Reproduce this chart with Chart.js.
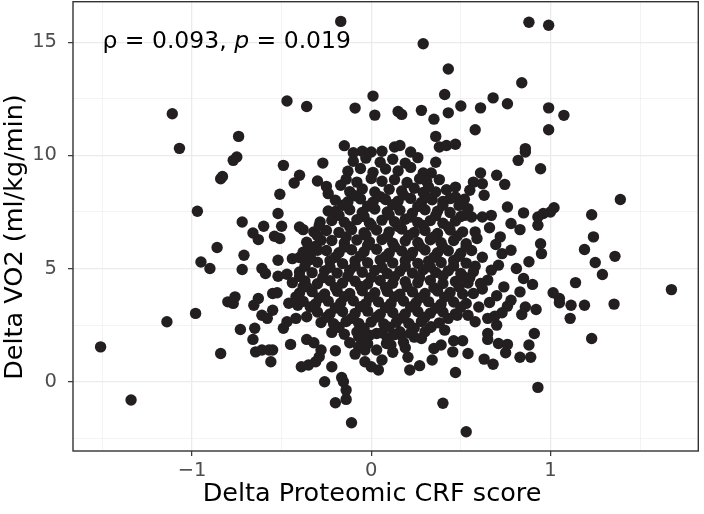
<!DOCTYPE html>
<html lang="en">
<head>
<meta charset="UTF-8" />
<title>Delta VO2 vs Delta Proteomic CRF score</title>
<script src="https://cdn.jsdelivr.net/npm/chart.js"></script>
<style>
  * { margin: 0; padding: 0; box-sizing: border-box; }
  body { background: #ffffff; }
  .wrap { width: 704px; height: 514px; position: relative; overflow: hidden; }
  /* chart.js keeps ~4px above the panel; pull the canvas up so the panel starts at the top */
  .plot { position: absolute; left: 0; top: -4px; width: 704px; height: 518px; }
</style>
</head>
<body>
<div class="wrap"><div class="plot"><canvas id="scatter"></canvas></div></div>
<script>
// axis setup
const xTitle = 'Delta Proteomic CRF score';
const yTitle = 'Delta VO2 (ml/kg/min)';
const xLimits = [-1.664, 1.825];
const yLimits = [-3.06, 16.79];
const corrParts = [['\u03c1 = 0.093, ', 'normal'], ['p', 'italic'], [' = 0.019', 'normal']];

// sparse points, read one by one (x = delta CRF score, y = delta VO2)
const leftPts = [
  [-1.11,11.84],[-1.07,10.31],[-0.84,8.97],[-0.83,9.07],[-0.97,7.53],[-0.86,5.93],[-0.95,5.29],[-0.90,5.00],
  [-1.14,2.65],[-0.98,3.02],[-0.84,1.25],[-1.51,1.54],[-1.34,-0.81],[-0.80,3.53],
  [-0.75,9.93],[-0.77,9.78],[-0.49,9.56],[-0.27,9.66],[-0.40,9.12],[-0.43,8.78],[-0.30,8.87],[-0.25,8.63],
  [-0.24,8.31],[-0.17,8.68],[-0.51,8.28],[-0.52,7.43],[-0.72,7.06],[-0.60,6.87],[-0.50,6.87],[-0.66,6.57],
  [-0.63,6.28],[-0.54,6.43],[-0.51,6.33],[-0.40,6.84],[-0.38,6.72],[-0.24,7.54],[-0.71,5.59],[-0.72,4.96],
  [-0.52,5.37],[-0.61,5.00],[-0.59,4.78],[-0.52,4.66],[-0.47,4.75],[-0.40,4.85],[-0.44,5.44],[-0.40,5.49],
  [-0.55,3.90],[-0.525,3.93],[-0.38,4.19],[-0.76,3.75],[-0.63,3.68],[-0.35,5.96],[-0.32,6.62],[-0.285,7.06],
  [-0.28,6.25],[-0.30,5.81],[-0.35,5.37]
];
const topPts = [
  [-0.17,15.92],[-0.47,12.40],[-0.36,12.16],[-0.09,12.09],[0.01,12.62],[0.02,11.78],[-0.74,10.84],[-0.15,10.43],
  [-0.05,10.18],[0.0,10.15],[0.06,10.18],[-0.1,10.12],
  [0.88,15.88],[0.99,15.75],[0.29,14.93],[0.43,13.82],[0.84,13.21],[0.41,12.69],[0.68,12.54],[0.76,12.28],
  [0.61,12.10],[0.50,12.18],[0.43,11.88],[0.28,11.99],[0.35,11.60],[0.15,11.94],[0.17,11.81],[0.58,11.13],
  [0.36,10.84],[0.99,12.10],[0.99,11.13],[1.075,11.77],[0.86,10.30],[0.13,10.37],[0.16,10.44],[0.38,10.37],
  [0.42,10.44],[0.47,10.49],[0.22,10.15]
];
const rightPts = [
  [1.39,8.05],[1.02,7.69],[1.0,7.50],[1.23,7.38],[1.24,6.40],[1.19,5.84],[1.25,5.27],[1.36,5.54],[1.29,4.74],
  [1.14,4.38],[1.675,4.07],[1.015,3.93],[1.05,3.68],[1.05,3.49],[1.115,3.38],[1.19,3.38],[1.355,3.43],
  [1.11,2.80],[1.23,1.91],
  [0.82,9.78],[0.86,10.15],[0.945,9.41],[0.61,9.22],[0.70,9.12],[0.745,8.72],[0.57,8.82],[0.62,8.75],
  [0.55,8.46],[0.63,8.24],[0.76,7.72],[0.85,7.46],[0.93,7.28],[0.96,7.43],[0.78,6.99],[0.83,6.72],[0.93,6.91],
  [0.945,6.10],[0.95,5.66],[0.695,6.06],[0.73,5.66],[0.78,5.81],[0.81,5.00],[0.85,4.56],[0.74,4.19],
  [0.83,3.97],[0.71,5.15],[0.67,4.93],[0.65,4.49],[0.61,4.34],[0.52,7.35],[0.56,7.28],[0.62,7.28],
  [0.67,7.35],[0.49,7.79],[0.54,7.65],[0.36,9.70],[0.335,9.22],[0.38,8.93],[0.32,8.60],[0.36,8.38],
  [0.44,8.09],[0.47,8.16],[0.58,6.62],[0.59,6.33],
  [0.62,4.1],[0.70,3.8],[0.78,3.6],[0.66,3.5],[0.86,3.3],[0.73,3.05],[0.60,3.3],[0.57,3.9],[0.55,4.6],
  [0.62,5.5],[0.58,5.1],[0.72,6.4],[0.66,6.8],[0.88,5.3],[0.9,4.3],[0.7,2.5]
];
const bottomPts = [
  [0.93,-0.25],[0.40,-0.95],[0.53,-2.21],[0.47,0.41],[0.91,2.13],[0.88,1.62],[0.83,1.08],[0.89,1.08],
  [0.68,0.77],[0.63,1.00],[0.75,1.28],[0.76,1.65],[0.71,1.69],[0.65,2.13],[0.65,1.87],[0.92,3.19],
  [0.84,2.97],[0.76,3.34],[0.54,1.25],[0.51,1.81],[0.46,1.81],[0.455,1.32],[0.215,0.52],[0.27,0.71],
  [0.205,1.08],[0.19,1.50],[0.34,0.96],[0.35,1.47],[0.39,1.62],[0.11,1.62],[0.16,2.21],[0.17,2.06],
  [0.28,1.91],[0.30,2.21],[0.335,2.43],[0.41,2.28],[0.48,2.94],[0.54,2.94],[0.58,2.65],[0.65,2.80],[0.69,2.90],
  [-0.11,-1.81],[-0.20,-0.93],[-0.14,-0.78],[-0.14,-0.37],[-0.155,0.0],[-0.165,0.19],[-0.26,0.0],[-0.22,0.66],
  [-0.20,1.37],[-0.39,0.66],[-0.35,0.74],[-0.31,0.88],[-0.29,1.10],[-0.28,1.40],[-0.45,1.65],[-0.36,1.87],
  [-0.32,1.72],[-0.56,0.88],[-0.645,1.32],[-0.61,1.40],[-0.57,1.40],[-0.55,1.40],[-0.66,1.87],[-0.65,2.36],
  [-0.73,2.31],[-0.61,2.94],[-0.58,2.80],[-0.55,3.16],[-0.655,3.38],[-0.77,3.46],[-0.49,2.36],[-0.47,2.65],
  [-0.42,2.80],[-0.36,2.87],[-0.41,3.38],[-0.035,0.88],[0.0,0.66],[0.04,0.52],[0.06,0.96],[0.03,1.40],
  [-0.035,1.40],[-0.07,1.54],[-0.07,1.99],[-0.05,2.36],[-0.01,2.06],[0.03,2.13],[0.085,1.69]
];
// dense middle cloud, estimated row by row
const corePts = [
  [-0.1,9.74],[-0.03,9.88],[0.05,9.7],[0.12,9.83],[0.19,9.66],[0.26,9.9],
  [-0.13,9.3],[-0.06,9.42],[0.01,9.25],[0.08,9.4],[0.15,9.31],[0.22,9.47],[0.29,9.22],
  [-0.14,8.95],[-0.08,8.82],[0.0,8.98],[0.06,8.86],[0.13,8.93],[0.2,8.8],[0.27,8.97],[0.31,8.85],
  [-0.12,8.4],[-0.05,8.52],[0.02,8.38],[0.1,8.5],[0.17,8.43],[0.24,8.55],[0.29,8.36],[0.42,8.48],[0.47,8.6],
  [-0.2,8.02],[-0.13,7.95],[-0.06,8.08],[0.01,7.93],[0.08,8.05],[0.15,7.98],[0.22,8.1],[0.28,7.92],[0.34,8.04],[0.4,7.96],[0.52,8.06],
  [-0.2,7.52],[-0.12,7.6],[-0.05,7.48],[0.02,7.63],[0.09,7.5],[0.16,7.58],[0.23,7.45],[0.3,7.6],[0.37,7.53],[0.44,7.48],
  [-0.22,7.12],[-0.15,7.05],[-0.08,7.16],[-0.01,7.02],[0.06,7.14],[0.13,7.07],[0.19,7.18],[0.26,7.04],[0.33,7.12],[0.4,7.0],[0.47,7.1],
  [-0.25,6.68],[-0.18,6.6],[-0.11,6.72],[-0.04,6.58],[0.03,6.7],[0.1,6.62],[0.17,6.75],[0.24,6.6],[0.3,6.68],[0.37,6.55],[0.44,6.7],[0.51,6.62],
  [-0.36,6.16],[-0.22,6.24],[-0.15,6.13],[-0.08,6.26],[-0.01,6.18],[0.06,6.28],[0.12,6.12],[0.19,6.22],[0.26,6.15],[0.33,6.27],[0.39,6.14],[0.46,6.24],[0.53,6.1],
  [-0.38,5.72],[-0.25,5.8],[-0.18,5.7],[-0.11,5.83],[-0.04,5.74],[0.03,5.85],[0.1,5.68],[0.17,5.78],[0.23,5.71],[0.3,5.82],[0.37,5.7],[0.43,5.79],[0.5,5.68],[0.56,5.8],
  [-0.3,5.28],[-0.23,5.35],[-0.16,5.22],[-0.09,5.34],[-0.02,5.26],[0.05,5.38],[0.12,5.25],[0.19,5.36],[0.26,5.23],[0.32,5.32],[0.39,5.27],[0.46,5.36],[0.53,5.24],
  [-0.33,4.82],[-0.26,4.9],[-0.19,4.8],[-0.12,4.93],[-0.05,4.84],[0.02,4.92],[0.09,4.78],[0.16,4.88],[0.23,4.8],[0.29,4.95],[0.36,4.83],[0.43,4.9],[0.5,4.78],[0.57,4.86],
  [-0.44,4.38],[-0.37,4.45],[-0.3,4.33],[-0.23,4.46],[-0.16,4.36],[-0.09,4.44],[-0.02,4.32],[0.05,4.47],[0.12,4.35],[0.19,4.42],[0.26,4.37],[0.33,4.48],[0.4,4.34],[0.47,4.43],[0.54,4.36],
  [-0.4,3.92],[-0.33,3.98],[-0.26,3.88],[-0.19,4.0],[-0.12,3.9],[-0.05,4.02],[0.02,3.93],[0.09,3.99],[0.16,3.87],[0.23,3.97],[0.3,3.9],[0.37,4.01],[0.44,3.94],[0.51,3.88],
  [-0.46,3.47],[-0.38,3.55],[-0.31,3.44],[-0.24,3.56],[-0.17,3.48],[-0.1,3.58],[-0.03,3.45],[0.04,3.53],[0.11,3.46],[0.18,3.57],[0.25,3.49],[0.32,3.54],[0.39,3.43],[0.46,3.52],[0.53,3.46],
  [-0.3,3.08],[-0.23,3.0],[-0.16,3.1],[-0.09,3.02],[-0.02,3.12],[0.05,2.98],[0.12,3.06],[0.19,3.0],[0.26,3.1],[0.33,3.03],[0.4,3.08],[0.47,3.0],
  [-0.28,2.62],[-0.21,2.56],[-0.14,2.66],[-0.07,2.58],[0.0,2.64],[0.07,2.55],[0.14,2.63],[0.21,2.57],[0.28,2.66],[0.38,2.6],
  [-0.22,2.18],[-0.15,2.1],[-0.08,2.2],[0.06,2.16],[0.13,2.08],[0.22,2.14],
  [-0.12,1.72],[-0.02,1.68],[0.18,1.74],
  [-0.09,1.22],[0.12,1.3]
];
// points hidden between the rows above, filling the darkest part of the cloud
const fillPts = [
  [-0.09,8.22],[0.05,8.18],[0.18,8.25],[0.31,8.16],
  [-0.16,7.8],[-0.02,7.75],[0.12,7.82],[0.26,7.74],[0.4,7.8],
  [-0.18,7.35],[-0.04,7.3],[0.1,7.37],[0.22,7.28],[0.36,7.34],[0.5,7.3],
  [-0.29,6.9],[-0.12,6.85],[0.0,6.92],[0.15,6.86],[0.29,6.9],[0.43,6.84],
  [-0.3,6.45],[-0.14,6.4],[-0.03,6.47],[0.09,6.42],[0.21,6.46],[0.35,6.4],[0.48,6.44],
  [-0.31,5.99],[-0.15,5.95],[-0.02,6.02],[0.13,5.96],[0.27,6.0],[0.4,5.94],[0.53,5.98],
  [-0.34,5.55],[-0.2,5.5],[-0.06,5.56],[0.08,5.52],[0.22,5.57],[0.35,5.5],[0.49,5.54],
  [-0.37,5.1],[-0.23,5.06],[-0.09,5.11],[0.06,5.05],[0.19,5.1],[0.33,5.07],[0.46,5.12],
  [-0.4,4.65],[-0.27,4.6],[-0.13,4.66],[0.0,4.61],[0.13,4.64],[0.27,4.6],[0.4,4.67],[0.52,4.62],
  [-0.36,4.2],[-0.2,4.16],[-0.06,4.21],[0.08,4.17],[0.2,4.2],[0.35,4.15],[0.49,4.19],
  [-0.42,3.75],[-0.29,3.7],[-0.15,3.76],[-0.01,3.72],[0.13,3.75],[0.27,3.7],[0.41,3.74],
  [-0.34,3.3],[-0.2,3.26],[-0.06,3.31],[0.08,3.27],[0.22,3.3],[0.36,3.25],[0.5,3.29],
  [-0.25,2.85],[-0.11,2.8],[0.03,2.86],[0.17,2.82],[0.3,2.85],[0.43,2.8],
  [-0.18,2.4],[-0.04,2.36],[0.1,2.41],[0.24,2.37],[0.33,2.4],
  [-0.05,1.96],[0.09,1.92],[0.24,1.97]
];

const allPts = [...leftPts, ...topPts, ...rightPts, ...bottomPts, ...corePts, ...fillPts].map(([x, y]) => ({ x, y }));

const FONT = '"DejaVu Sans", sans-serif';
const isMajor = ctx => ctx.tick && Number.isInteger(ctx.tick.value);
const fmt = v => Number.isInteger(v) ? (v < 0 ? '\u2212' + Math.abs(v) : String(v)) : '';
// drop the extra room chart.js keeps for half-labels so the panel fills the canvas
const noPad = s => { s.paddingTop = 0; s.paddingBottom = 0; s.paddingLeft = 0; s.paddingRight = 0; };

const gridOpts = {
  color: '#ebebeb',
  lineWidth: ctx => isMajor(ctx) ? 1.3 : 0.6,
  tickLength: 5,
  tickColor: ctx => isMajor(ctx) ? '#333333' : 'rgba(0,0,0,0)',
  tickWidth: 1.2
};

const panelBorder = {
  id: 'panelBorder',
  afterDraw(chart) {
    const { ctx, chartArea: a } = chart;
    ctx.save();
    ctx.strokeStyle = '#333333';
    ctx.lineWidth = 1.4;
    ctx.strokeRect(a.left, a.top, a.right - a.left, a.bottom - a.top);
    ctx.restore();
  }
};

// axis titles, placed where the original has them (canvas is 4px higher than the page)
const axisTitles = {
  id: 'axisTitles',
  afterDraw(chart) {
    const { ctx } = chart;
    ctx.save();
    ctx.fillStyle = '#000000';
    ctx.font = `25.5px ${FONT}`;
    ctx.textAlign = 'center';
    ctx.textBaseline = 'middle';
    ctx.fillText(xTitle, 372, 498);
    ctx.translate(15, 241);
    ctx.rotate(-Math.PI / 2);
    ctx.fillText(yTitle, 0, 0);
    ctx.restore();
  }
};

const corrLabel = {
  id: 'corrLabel',
  afterDatasetsDraw(chart) {
    const { ctx, scales: { x, y } } = chart;
    let px = x.getPixelForValue(-1.5);
    const py = y.getPixelForValue(15);
    ctx.save();
    ctx.fillStyle = '#000000';
    ctx.textBaseline = 'middle';
    ctx.textAlign = 'left';
    for (const [txt, style] of corrParts) {
      ctx.font = `${style} 23.5px ${FONT}`;
      ctx.fillText(txt, px, py);
      px += ctx.measureText(txt).width;
    }
    ctx.restore();
  }
};

new Chart(document.getElementById('scatter'), {
  type: 'scatter',
  data: {
    datasets: [{
      data: allPts,
      backgroundColor: '#231f20',
      borderWidth: 0,
      pointRadius: 5.7,
      pointHoverRadius: 5.7
    }]
  },
  options: {
    responsive: true,
    maintainAspectRatio: false,
    animation: false,
    events: [],
    layout: { padding: { top: 0, right: 2, left: 0, bottom: 0 } },
    plugins: { legend: { display: false }, tooltip: { enabled: false } },
    scales: {
      x: {
        type: 'linear',
        min: xLimits[0], max: xLimits[1],
        afterFit: s => { s.height = 63; noPad(s); },
        border: { display: false },
        grid: gridOpts,
        ticks: {
          stepSize: 0.5, includeBounds: false, autoSkip: false, maxRotation: 0,
          padding: 3, color: '#4d4d4d', font: { family: FONT, size: 19.5 },
          callback: fmt
        },
        title: { display: false }
      },
      y: {
        type: 'linear',
        min: yLimits[0], max: yLimits[1],
        afterFit: s => { s.width = 73; noPad(s); },
        border: { display: false },
        grid: gridOpts,
        ticks: {
          stepSize: 2.5, includeBounds: false, autoSkip: false,
          padding: 11, color: '#4d4d4d', font: { family: FONT, size: 19.5 },
          callback: fmt
        },
        title: { display: false }
      }
    }
  },
  plugins: [panelBorder, axisTitles, corrLabel]
});
</script>
</body>
</html>
